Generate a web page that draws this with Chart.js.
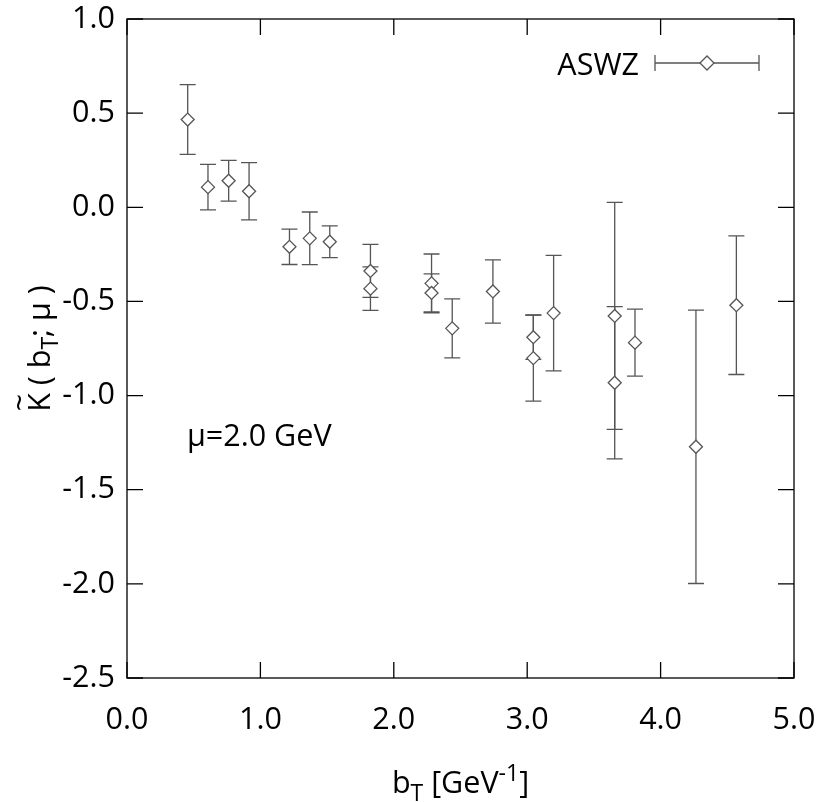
<!DOCTYPE html>
<html>
<head>
<meta charset="utf-8">
<script src="https://cdn.jsdelivr.net/npm/chart.js@4/dist/chart.umd.min.js"></script>
<style>
  html, body { margin: 0; padding: 0; background: #fff; }
  canvas { display: block; }
</style>
</head>
<body>
<canvas id="chart" width="821" height="802"></canvas>
<script>
// b_T values [GeV^-1], Collins-Soper kernel and its uncertainty
const bT = [0.455, 0.607, 0.762, 0.915, 1.218, 1.370, 1.520, 1.825, 1.825, 2.283, 2.283,
            2.438, 2.743, 3.046, 3.046, 3.198, 3.656, 3.656, 3.808, 4.265, 4.568];
const kernel = [0.466, 0.107, 0.141, 0.085, -0.210, -0.165, -0.183, -0.338, -0.432, -0.404, -0.455,
                -0.643, -0.447, -0.690, -0.801, -0.562, -0.577, -0.932, -0.719, -1.272, -0.520];
const kernelErr = [0.185, 0.121, 0.108, 0.152, 0.094, 0.140, 0.084, 0.141, 0.115, 0.156, 0.101,
                   0.157, 0.168, 0.118, 0.228, 0.307, 0.603, 0.404, 0.178, 0.726, 0.368];

const xTicks = [0, 1, 2, 3, 4, 5];
const yTicks = [1.0, 0.5, 0.0, -0.5, -1.0, -1.5, -2.0, -2.5];

const seriesName = 'ASWZ';
const scaleNote = 'μ=2.0 GeV';

const FONT = '"Open Sans", "Noto Sans", sans-serif';
const FONT_SIZE = 30.5;
const INK = '#555';
const CAP = 8;

function font(size) { return size + 'px ' + FONT; }

function drawDiamond(ctx, x, y, r) {
  ctx.beginPath();
  ctx.moveTo(x - r, y);
  ctx.lineTo(x, y - r);
  ctx.lineTo(x + r, y);
  ctx.lineTo(x, y + r);
  ctx.closePath();
  ctx.fillStyle = '#fff';
  ctx.fill();
  ctx.stroke();
}

// vertical error bars with caps, drawn beneath the markers
const errorBars = {
  id: 'errorBars',
  beforeDatasetsDraw(chart) {
    const { ctx, scales: { x, y } } = chart;
    ctx.save();
    ctx.strokeStyle = INK;
    ctx.lineWidth = 1.3;
    bT.forEach((b, i) => {
      const px = x.getPixelForValue(b);
      const top = y.getPixelForValue(kernel[i] + kernelErr[i]);
      const bot = y.getPixelForValue(kernel[i] - kernelErr[i]);
      ctx.beginPath();
      ctx.moveTo(px, top); ctx.lineTo(px, bot);
      ctx.moveTo(px - CAP, top); ctx.lineTo(px + CAP, top);
      ctx.moveTo(px - CAP, bot); ctx.lineTo(px + CAP, bot);
      ctx.stroke();
    });
    ctx.restore();
  }
};

// frame, inward tick marks, legend, annotation and axis titles
const decorations = {
  id: 'decorations',
  afterDraw(chart) {
    const { ctx, chartArea: a, scales: { x, y } } = chart;
    ctx.save();
    ctx.strokeStyle = '#000';
    ctx.lineWidth = 1.3;
    ctx.strokeRect(a.left, a.top, a.right - a.left, a.bottom - a.top);

    const TL = 16;
    ctx.beginPath();
    xTicks.forEach(v => {
      const px = x.getPixelForValue(v);
      ctx.moveTo(px, a.bottom); ctx.lineTo(px, a.bottom - TL);
      ctx.moveTo(px, a.top); ctx.lineTo(px, a.top + TL);
    });
    yTicks.forEach(v => {
      const py = y.getPixelForValue(v);
      ctx.moveTo(a.left, py); ctx.lineTo(a.left + TL, py);
      ctx.moveTo(a.right, py); ctx.lineTo(a.right - TL, py);
    });
    ctx.stroke();

    // legend
    ctx.fillStyle = '#000';
    ctx.font = font(FONT_SIZE);
    ctx.textAlign = 'right';
    ctx.textBaseline = 'alphabetic';
    ctx.fillText(seriesName, 639, 75);
    const ly = 63, lx0 = 655, lx1 = 759;
    ctx.strokeStyle = INK;
    ctx.lineWidth = 1.3;
    ctx.beginPath();
    ctx.moveTo(lx0, ly); ctx.lineTo(lx1, ly);
    ctx.moveTo(lx0, ly - CAP); ctx.lineTo(lx0, ly + CAP);
    ctx.moveTo(lx1, ly - CAP); ctx.lineTo(lx1, ly + CAP);
    ctx.stroke();
    drawDiamond(ctx, (lx0 + lx1) / 2, ly, 7);

    // scale annotation
    ctx.fillStyle = '#000';
    ctx.textAlign = 'left';
    ctx.fillText(scaleNote, 187, 446);

    // x-axis title: b_T [GeV^-1]
    const sub = Math.round(FONT_SIZE * 0.75);
    const parts = [
      { t: 'b', s: FONT_SIZE, dy: 0 },
      { t: 'T', s: sub, dy: 8 },
      { t: ' [GeV', s: FONT_SIZE, dy: 0 },
      { t: '-1', s: sub, dy: -12 },
      { t: ']', s: FONT_SIZE, dy: 0 }
    ];
    drawParts(ctx, parts, (a.left + a.right) / 2, 793);

    // y-axis title: K~( b_T; mu ), rotated
    const yParts = [
      { t: 'K', s: FONT_SIZE, dy: 0, tilde: true },
      { t: ' ( b', s: FONT_SIZE, dy: 0 },
      { t: 'T', s: sub, dy: 8 },
      { t: '; μ )', s: FONT_SIZE, dy: 0 }
    ];
    ctx.save();
    ctx.translate(50, (a.top + a.bottom) / 2);
    ctx.rotate(-Math.PI / 2);
    drawParts(ctx, yParts, 0, 0);
    ctx.restore();

    ctx.restore();
  }
};

function drawParts(ctx, parts, cx, baseline) {
  let total = 0;
  parts.forEach(p => { ctx.font = font(p.s); p.w = ctx.measureText(p.t).width; total += p.w; });
  let xx = cx - total / 2;
  ctx.textAlign = 'left';
  ctx.textBaseline = 'alphabetic';
  ctx.fillStyle = '#000';
  parts.forEach(p => {
    ctx.font = font(p.s);
    ctx.fillText(p.t, xx, baseline + p.dy);
    if (p.tilde) {
      ctx.font = font(FONT_SIZE);
      const tw = ctx.measureText('~').width;
      ctx.fillText('~', xx + (p.w - tw) / 2, baseline - 20);
    }
    xx += p.w;
  });
}

new Chart(document.getElementById('chart'), {
  type: 'scatter',
  data: {
    datasets: [{
      label: seriesName,
      data: bT.map((b, i) => ({ x: b, y: kernel[i] })),
      pointStyle: 'rectRot',
      pointRadius: 6.5,
      pointBorderWidth: 1.3,
      borderColor: INK,
      backgroundColor: '#fff'
    }]
  },
  options: {
    responsive: false,
    animation: false,
    events: [],
    layout: { padding: { top: 19, right: 27, left: 0, bottom: 0 } },
    plugins: { legend: { display: false }, tooltip: { enabled: false } },
    scales: {
      x: {
        type: 'linear', min: 0, max: 5,
        afterBuildTicks: s => { s.ticks = xTicks.map(v => ({ value: v })); },
        afterFit: s => { s.height = 124; s.paddingLeft = 0; s.paddingRight = 0; },
        grid: { display: false, drawTicks: false },
        border: { display: false },
        ticks: {
          padding: 24, color: '#000', font: { family: FONT, size: FONT_SIZE },
          maxRotation: 0, callback: v => Number(v).toFixed(1)
        }
      },
      y: {
        type: 'linear', min: -2.5, max: 1,
        afterBuildTicks: s => { s.ticks = yTicks.map(v => ({ value: v })); },
        afterFit: s => { s.width = 127; s.paddingTop = 0; s.paddingBottom = 0; },
        grid: { display: false, drawTicks: false },
        border: { display: false },
        ticks: {
          padding: 12, color: '#000', font: { family: FONT, size: FONT_SIZE },
          callback: v => Number(v).toFixed(1)
        }
      }
    }
  },
  plugins: [errorBars, decorations]
});
</script>
</body>
</html>
